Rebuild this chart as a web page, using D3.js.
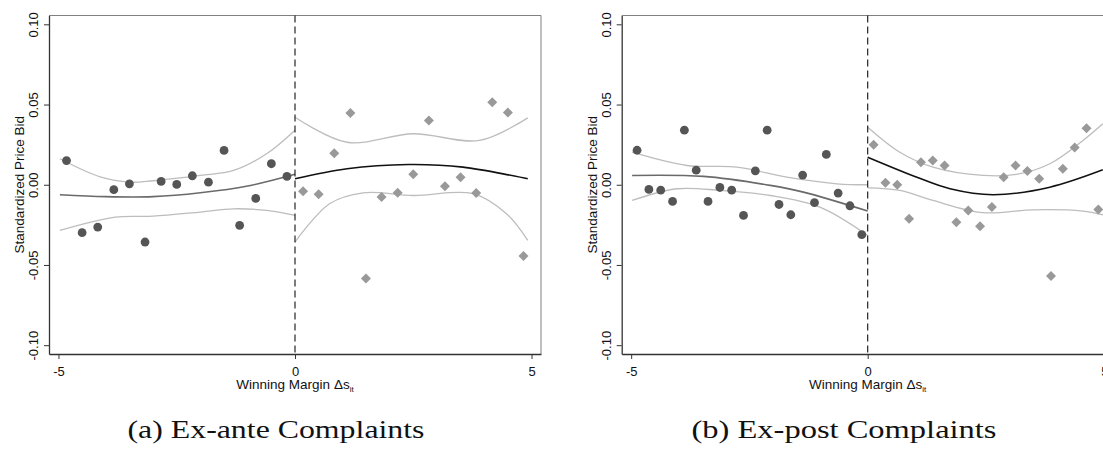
<!DOCTYPE html>
<html>
<head>
<meta charset="utf-8">
<script src="https://cdn.jsdelivr.net/npm/d3@7"></script>
<style>
  html, body { margin: 0; padding: 0; background: #fff; overflow: hidden; }
  svg { display: block; }
</style>
</head>
<body>
<svg id="chart" width="1103" height="452"></svg>
<script>
// ---------------- DATA ----------------
// Panel (a) Ex-ante Complaints
const aLeftX  = [-4.83,-4.5,-4.17,-3.83,-3.5,-3.17,-2.83,-2.5,-2.17,-1.83,-1.5,-1.17,-0.83,-0.5,-0.17];
const aLeftY  = [0.0151,-0.0299,-0.0264,-0.0031,0.0006,-0.0357,0.0021,0.0002,0.0056,0.0016,0.0214,-0.0253,-0.0085,0.0131,0.0052];
const aRightX = [0.17,0.5,0.83,1.17,1.5,1.83,2.17,2.5,2.83,3.17,3.5,3.83,4.17,4.5,4.83];
const aRightY = [-0.0040,-0.0060,0.0197,0.0448,-0.0585,-0.0077,-0.0050,0.0066,0.0400,-0.0009,0.0047,-0.0052,0.0514,0.0450,-0.0444];

const aFitLX = [-4.97,-4,-3,-2,-1,0];
const aFitLY = [-0.0062,-0.0074,-0.0074,-0.0050,-0.0008,0.0065];
const aHiLX  = [-4.97,-4.1,-3.5,-3,-2,-1.3,-0.6,0];
const aHiLY  = [0.0162,0.0047,0.0016,0.0025,0.0058,0.0089,0.0193,0.0340];
const aLoLX  = [-4.97,-3.8,-3,-2,-1.3,-0.6,0];
const aLoLY  = [-0.0285,-0.0202,-0.0196,-0.0170,-0.0150,-0.0160,-0.0191];
const aFitRX = [0,1.1,2.4,3.55,4.92];
const aFitRY = [0.0037,0.0100,0.0126,0.0110,0.0037];
const aHiRX  = [0,1.1,2.5,3.9,4.92];
const aHiRY  = [0.0421,0.0265,0.0318,0.0276,0.0417];
const aLoRX  = [0,0.73,1.44,2.5,3.76,4.47,4.92];
const aLoRY  = [-0.0357,-0.0118,-0.0050,-0.0067,-0.0056,-0.0181,-0.0347];

// Panel (b) Ex-post Complaints
const bLeftX  = [-4.875,-4.625,-4.375,-4.125,-3.875,-3.625,-3.375,-3.125,-2.875,-2.625,-2.375,-2.125,-1.875,-1.625,-1.375,-1.125,-0.875,-0.625,-0.375,-0.125];
const bLeftY  = [0.0215,-0.0029,-0.0034,-0.0104,0.0340,0.0091,-0.0104,-0.0017,-0.0034,-0.0191,0.0087,0.0340,-0.0123,-0.0187,0.0060,-0.0112,0.0189,-0.0052,-0.0131,-0.0311];
const bRightX = [0.125,0.375,0.625,0.875,1.125,1.375,1.625,1.875,2.125,2.375,2.625,2.875,3.125,3.375,3.625,3.875,4.125,4.375,4.625,4.875];
const bRightY = [0.0249,0.0012,0.0000,-0.0212,0.0141,0.0151,0.0120,-0.0233,-0.0160,-0.0258,-0.0139,0.0047,0.0120,0.0085,0.0037,-0.0569,0.0100,0.0232,0.0352,-0.0154];

const bFitLX = [-4.98,-3.47,-2.06,-1.36,0];
const bFitLY = [0.0058,0.0052,-0.0004,-0.0046,-0.0164];
const bHiLX  = [-4.98,-3.82,-2.76,-1.71,-0.65,0];
const bHiLY  = [0.0203,0.0120,0.0110,0.0047,0.0006,0.0000];
const bLoLX  = [-4.98,-4.03,-3.12,-2.06,-1.01,0];
const bLoLY  = [-0.0098,-0.0025,-0.0035,-0.0067,-0.0139,-0.0316];
const bFitRX = [0,1.04,1.74,2.65,3.85,4.97];
const bFitRY = [0.0172,0.0047,-0.0025,-0.0062,-0.0015,0.0093];
const bHiRX  = [0,0.68,1.38,2.44,3.14,3.85,4.55,4.97];
const bHiRY  = [0.0359,0.0203,0.0110,0.0058,0.0064,0.0131,0.0276,0.0380];
const bLoRX  = [0,0.68,1.38,2.44,3.49,4.55,4.97];
const bLoRY  = [-0.0019,-0.0035,-0.0098,-0.0174,-0.0156,-0.0164,-0.0187];

const yTicks = [-0.10,-0.05,0.00,0.05,0.10];
const xTicks = [-5,0,5];
const yTitle = "Standardized Price Bid";
const xTitle = "Winning Margin Δs";
const xTitleSub = "it";
const captions = ["(a) Ex-ante Complaints", "(b) Ex-post Complaints"];

// ---------------- DRAW ----------------
const svg = d3.select("#chart");
svg.append("rect").attr("width",1103).attr("height",452).attr("fill","#fff");

const zip = (xs, ys) => xs.map((x,i)=>[x, ys[i]]);

function panel(cfg) {
  const left = cfg.left, top = 15.5, w = 492, bottom = 354;
  const x = d3.scaleLinear().domain([-5.2, 5.2]).range([left, left + w]);
  const y = d3.scaleLinear().domain([-0.1055, 0.1055]).range([bottom, top]);
  const g = svg.append("g");

  // frame (top and right)
  g.append("path")
    .attr("d", `M${left},${top}H${left+w}V${bottom}`)
    .attr("fill","none").attr("stroke","#808080").attr("stroke-width",1);

  // CI lines
  const line = d3.line().x(d=>x(d[0])).y(d=>y(d[1])).curve(d3.curveCatmullRom.alpha(0.5));
  const ci = [cfg.hiL, cfg.loL, cfg.hiR, cfg.loR];
  ci.forEach(pts => g.append("path").attr("d", line(pts))
    .attr("fill","none").attr("stroke","#bdbdbd").attr("stroke-width",1.3));
  g.append("path").attr("d", line(cfg.fitL))
    .attr("fill","none").attr("stroke","#6a6a6a").attr("stroke-width",1.6);
  g.append("path").attr("d", line(cfg.fitR))
    .attr("fill","none").attr("stroke","#111").attr("stroke-width",1.6);

  // points
  g.selectAll("circle.pt").data(cfg.ptsL).enter().append("circle")
    .attr("cx", d=>x(d[0])).attr("cy", d=>y(d[1])).attr("r",4.4)
    .attr("fill","#555");
  const dsym = d3.symbol().type(d3.symbolSquare).size(50);
  g.selectAll("path.dm").data(cfg.ptsR).enter().append("path")
    .attr("d", dsym)
    .attr("transform", d=>`translate(${x(d[0])},${y(d[1])}) rotate(45)`)
    .attr("fill","#999");

  // dashed cutoff
  g.append("line").attr("x1",x(0)).attr("x2",x(0)).attr("y1",top).attr("y2",bottom)
    .attr("stroke","#111").attr("stroke-width",1.1).attr("stroke-dasharray","7,4");

  // y axis
  const fmt = d3.format(".2f");
  const ya = g.append("g").attr("transform",`translate(${left},0)`)
    .call(d3.axisLeft(y).tickValues(yTicks).tickSize(5).tickSizeOuter(0)
      .tickFormat(d=>fmt(d).replace("−","-")));
  ya.select(".domain").attr("stroke","#333").attr("stroke-width",1.3);
  ya.selectAll(".tick line").attr("stroke","#333");
  ya.selectAll(".tick text")
    .attr("transform","rotate(-90)").attr("x",0).attr("y",-11).attr("dy",null)
    .attr("text-anchor","middle")
    .attr("font-family","Liberation Sans, Arial, sans-serif").attr("font-size",13).attr("fill","#111");

  // x axis
  const xa = g.append("g").attr("transform",`translate(0,${bottom})`)
    .call(d3.axisBottom(x).tickValues(xTicks).tickSize(5).tickSizeOuter(0)
      .tickFormat(d=>String(d)));
  xa.select(".domain").attr("stroke","#333").attr("stroke-width",1.3);
  xa.selectAll(".tick line").attr("stroke","#333");
  xa.selectAll(".tick text").attr("y",22).attr("dy",null)
    .attr("font-family","Liberation Sans, Arial, sans-serif").attr("font-size",13).attr("fill","#111");

  // titles
  g.append("text").attr("transform",`translate(24,${(top+bottom)/2 + 0}) rotate(-90)`)
    .attr("x", 0).attr("text-anchor","middle")
    .attr("font-family","Liberation Sans, Arial, sans-serif").attr("font-size",13.5).attr("fill","#111")
    .text(yTitle);
  // shift y title for panel b
  const xt = g.append("text").attr("x", x(0)).attr("y", 389).attr("text-anchor","middle")
    .attr("font-family","Liberation Sans, Arial, sans-serif").attr("font-size",13.5).attr("fill","#111");
  xt.append("tspan").text(xTitle);
  xt.append("tspan").attr("font-size",8).attr("dy",2.5).text(xTitleSub);

  svg.append("text").attr("x", cfg.capX).attr("y", 438).attr("text-anchor","middle")
    .attr("font-family","Liberation Serif, DejaVu Serif, serif").attr("font-size",25).attr("fill","#111")
    .attr("textLength", cfg.capW).attr("lengthAdjust","spacingAndGlyphs")
    .text(cfg.caption);
  return g;
}

panel({left:49, caption:captions[0], capX:276, capW:297,
  ptsL: zip(aLeftX,aLeftY), ptsR: zip(aRightX,aRightY),
  fitL: zip(aFitLX,aFitLY), hiL: zip(aHiLX,aHiLY), loL: zip(aLoLX,aLoLY),
  fitR: zip(aFitRX,aFitRY), hiR: zip(aHiRX,aHiRY), loR: zip(aLoRX,aLoRY)});

const gb = panel({left:621.7, caption:captions[1], capX:844, capW:305,
  ptsL: zip(bLeftX,bLeftY), ptsR: zip(bRightX,bRightY),
  fitL: zip(bFitLX,bFitLY), hiL: zip(bHiLX,bHiLY), loL: zip(bLoLX,bLoLY),
  fitR: zip(bFitRX,bFitRY), hiR: zip(bHiRX,bHiRY), loR: zip(bLoRX,bLoRY)});
// y title of panel b sits left of its own axis
gb.select("text[transform^='translate(24']").attr("transform",`translate(${24+572.7},${(15.5+354)/2}) rotate(-90)`);
</script>
</body>
</html>
